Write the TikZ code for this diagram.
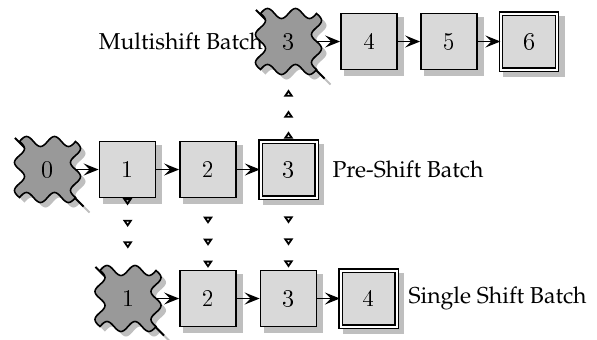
\documentclass[tikz,border=0pt]{standalone}
\usepackage[T1]{fontenc}
\renewcommand{\rmdefault}{ppl}
\usetikzlibrary{arrows.meta,decorations.markings}
\pgfdeclarelayer{bg}
\pgfsetlayers{bg,main}
\newcommand\dg[1]{{\fontfamily{lmr}\selectfont #1}}
\tikzset{
  every node/.style={font=\fontsize{11.5pt}{13pt}\selectfont},
  box/.style={draw, line width=0.9pt, fill=black!15, minimum size=28pt, inner sep=0pt},
  dbox/.style={box, double, double distance=1pt, line width=0.6pt},
  wave/.style={minimum size=28pt, inner sep=0pt},
  shadowfill/.style={fill=black!25},
  conn/.style={-{Stealth[length=7.5pt,width=6pt,inset=3pt]}, line width=0.9pt},
  tris/.style 2 args={postaction={decorate, decoration={markings,
    mark=between positions #1 and 1 step #2 with {\arrow[line width=0.9pt]{Triangle[open,length=3.6pt,width=4.6pt]}}}}}
}
% wavy outline of half side 14pt around local origin
\newcommand\wavepath{%
  (-14pt,14pt)
  -- plot[domain=0:1,samples=41,variable=\t] ({-14pt+28pt*\t},{14pt+2.5pt*sin(720*\t)})
  -- plot[domain=0:1,samples=41,variable=\t] ({14pt+2.5pt*sin(720*\t)},{14pt-28pt*\t})
  -- plot[domain=0:1,samples=41,variable=\t] ({14pt-28pt*\t},{-14pt-2.5pt*sin(720*\t)})
  -- plot[domain=0:1,samples=41,variable=\t] ({-14pt-2.5pt*sin(720*\t)},{-14pt+28pt*\t})
  -- cycle}
\newcommand\wavebg[1]{%
  \begin{pgfonlayer}{bg}
    \begin{scope}[shift={(#1.center)}]
      \fill[shadowfill, shift={(2.5pt,-2.5pt)}] \wavepath;
      \draw[line width=1pt, black!25] (-13.8pt,13.3pt) -- (21pt,-21.5pt);
      \draw[line width=1pt] (-16.3pt,15.8pt) -- (18pt,-18.5pt);
      \filldraw[fill=black!40, draw=black, line width=0.8pt] \wavepath;
    \end{scope}
  \end{pgfonlayer}}
\newcommand\shadowbg[2]{%
  \begin{pgfonlayer}{bg}
    \fill[shadowfill] ([shift={(2.5pt-#2,-2.5pt-#2)}]#1.south west) rectangle ([shift={(2.5pt+#2,-2.5pt+#2)}]#1.north east);
  \end{pgfonlayer}}
\begin{document}
\begin{tikzpicture}[x=0.5pt,y=-0.5pt]
\useasboundingbox (0,0) rectangle (597,339);
% top row
\node[wave] (t3) at (288.5,41.5) {\dg{3}};
\wavebg{t3}
\node[box] (t4) at (369,41.5) {\dg{4}};
\shadowbg{t4}{0.45pt}
\node[box] (t5) at (449,41.5) {\dg{5}};
\shadowbg{t5}{0.45pt}
\node[dbox] (t6) at (529,41.5) {\dg{6}};
\shadowbg{t6}{1.1pt}
\node[anchor=east, inner sep=0pt] (lm) at ([xshift=1.5pt]t3.west) {Multishift Batch};
% middle row
\node[wave] (m0) at (47.5,169.5) {\dg{0}};
\wavebg{m0}
\node[box] (m1) at (127.5,169.5) {\dg{1}};
\shadowbg{m1}{0.45pt}
\node[box] (m2) at (208,169.5) {\dg{2}};
\shadowbg{m2}{0.45pt}
\node[dbox] (m3) at (288.5,169.5) {\dg{3}};
\shadowbg{m3}{1.1pt}
\node[anchor=west, inner sep=0pt] (lp) at ([xshift=7.5pt]m3.east) {Pre-Shift Batch};
% bottom row
\node[wave] (b1) at (128,298.5) {\dg{1}};
\wavebg{b1}
\node[box] (b2) at (208,298.5) {\dg{2}};
\shadowbg{b2}{0.45pt}
\node[box] (b3) at (288.5,298.5) {\dg{3}};
\shadowbg{b3}{0.45pt}
\node[dbox] (b4) at (368.5,298.5) {\dg{4}};
\shadowbg{b4}{1.1pt}
\node[anchor=west, inner sep=0pt] (ls) at ([xshift=5.5pt]b4.east) {Single Shift Batch};
% horizontal connectors
\draw[conn] (t3) -- (t4);
\draw[conn] (t4) -- (t5);
\draw[conn] (t5) -- (t6);
\draw[conn] (m0) -- (m1);
\draw[conn] (m1) -- (m2);
\draw[conn] (m2) -- (m3);
\draw[conn] (b1) -- (b2);
\draw[conn] (b2) -- (b3);
\draw[conn] (b3) -- (b4);
% vertical triangle connectors
\path[tris={3.5pt}{10.8pt}] (m1.south) -- (b1.north);
\path[tris={12.75pt}{11pt}] (m2.south) -- (b2.north);
\path[tris={12.75pt}{11pt}] (m3.south) -- (b3.north);
\path[tris={4.75pt}{10.5pt}] (m3.north) -- (t3.south);
\end{tikzpicture}
\end{document}
